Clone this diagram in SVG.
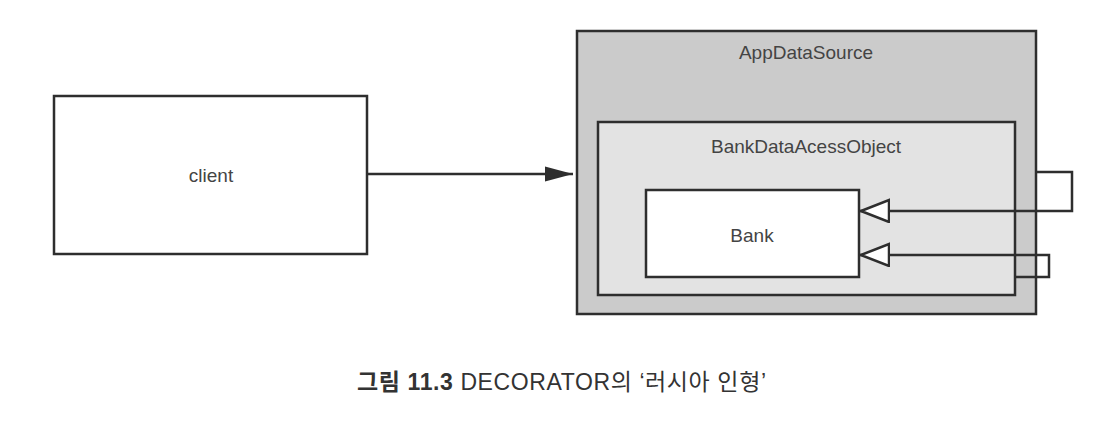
<svg xmlns="http://www.w3.org/2000/svg" width="1120" height="423" viewBox="0 0 1120 423">
<style>
.box{stroke:#2e2e2e;stroke-width:2.5}
.lbl{font-family:"Liberation Sans",Arial,sans-serif;font-size:19px;fill:#444;text-anchor:middle}
.conn{fill:none;stroke:#2e2e2e;stroke-width:2.5}
.cap{font-family:"Liberation Sans","Noto Sans CJK KR",sans-serif;font-size:23px;letter-spacing:0.6px;fill:#333}
</style>
<defs>
<marker id="filled" markerWidth="30" markerHeight="16" refX="28" refY="8" orient="auto" markerUnits="userSpaceOnUse">
<path d="M0,0.5 L28,8 L0,15.5 Z" fill="#2e2e2e"/>
</marker>
<marker id="hollow" markerWidth="32" markerHeight="26" refX="30" refY="12" orient="auto" markerUnits="userSpaceOnUse">
<path d="M1,1 L29,12 L1,23 Z" fill="#fff" stroke="#2e2e2e" stroke-width="2.5"/>
</marker>
</defs>
<rect width="1120" height="423" fill="#fff"/>
<g id="client">
<rect class="box" x="54" y="96" width="313" height="158" fill="#fff"/>
<text class="lbl" x="211" y="182">client</text>
</g>
<g id="AppDataSource">
<rect class="box" x="577" y="31" width="459" height="283" fill="#cbcbcb"/>
<text class="lbl" x="806" y="59">AppDataSource</text>
</g>
<g id="BankDataAcessObject">
<rect class="box" x="598" y="122" width="417" height="173" fill="#e3e3e3"/>
<text class="lbl" x="806" y="153">BankDataAcessObject</text>
</g>
<g id="Bank">
<rect class="box" x="646" y="190" width="213" height="87" fill="#fff"/>
<text class="lbl" x="752" y="242">Bank</text>
</g>
<g id="connectors">
<path class="conn" d="M367,174 L573,174" marker-end="url(#filled)"/>
<path class="conn" d="M1036,172 L1072,172 L1072,211 L860,211" marker-end="url(#hollow)"/>
<path class="conn" d="M1015,277 L1049,277 L1049,255 L860,255" marker-end="url(#hollow)"/>
</g>
<text class="cap" x="357" y="390"><tspan font-weight="bold" font-family="Noto Sans CJK KR, sans-serif">그림</tspan><tspan font-weight="bold"> 11.3</tspan> DECORATOR의 ‘러시아 인형’</text>
</svg>
